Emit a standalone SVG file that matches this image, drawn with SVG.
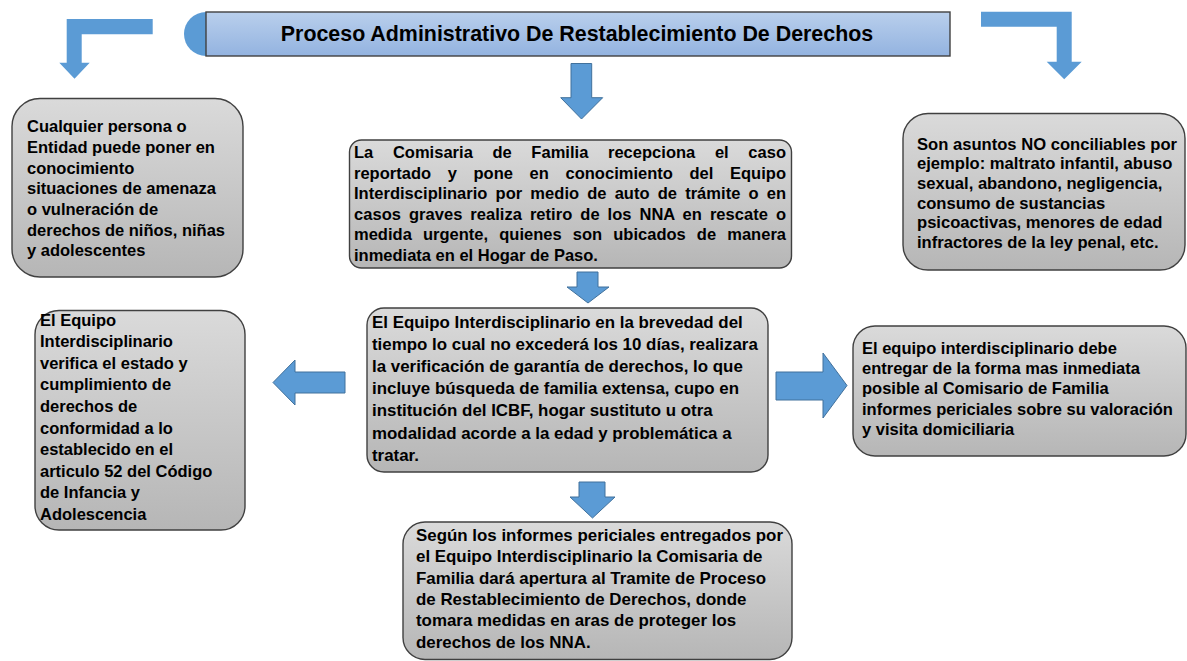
<svg xmlns="http://www.w3.org/2000/svg" width="1187" height="661" viewBox="0 0 1187 661">
<defs>
<linearGradient id="gGray" x1="0" y1="0" x2="0" y2="1">
<stop offset="0" stop-color="#dadada"/>
<stop offset="1" stop-color="#b6b6b6"/>
</linearGradient>
<linearGradient id="gBlue" x1="0" y1="0" x2="0" y2="1">
<stop offset="0" stop-color="#b9cfec"/>
<stop offset="1" stop-color="#93b3e0"/>
</linearGradient>
<style>
.box{fill:url(#gGray);stroke:#404040;stroke-width:1.4}
.t{font-family:"Liberation Sans",Arial,sans-serif;font-weight:bold;font-size:16.5px;fill:#000}
.big{font-size:16.9px}
.mid{font-size:16.6px}
.title{font-family:"Liberation Sans",Arial,sans-serif;font-weight:bold;font-size:21.4px;fill:#000}
.arr{fill:#5b9bd5;stroke:#41719c;stroke-width:1}
.carr{fill:#5b9bd5}
</style>
</defs>
<rect width="1187" height="661" fill="#fff"/>

<g id="title">
<path d="M206,12 A22,22 0 0 0 206,56 Z" fill="#5b9bd5"/>
<rect x="206" y="12" width="744" height="44" fill="url(#gBlue)" stroke="#404040" stroke-width="1.4"/>
<text class="title" x="577" y="41" text-anchor="middle">Proceso Administrativo De Restablecimiento De Derechos</text>
</g>

<g id="connectors">
<polygon class="carr" points="152.7,19 66.7,19 66.7,62.7 59.3,62.7 74.5,78.7 89.7,62.7 81.7,62.7 81.7,34.3 152.7,34.3"/>
<polygon class="carr" points="981,11.7 1071.7,11.7 1071.7,61.7 1081.7,61.7 1064.2,79.3 1046.7,61.7 1056.7,61.7 1056.7,26.7 981,26.7"/>
<polygon class="arr" points="571,63.5 591.7,63.5 591.7,97.7 602.7,97.7 581.5,119 560.7,97.7 571,97.7"/>
<polygon class="arr" points="577,272 598,272 598,287 609,287 588,303 567,287 577,287"/>
<polygon class="arr" points="345,372 295,372 295,360 273,382.5 295,405 295,393 345,393"/>
<polygon class="arr" points="776,372 823,372 823,353 847,385.5 823,418 823,400 776,400"/>
<polygon class="arr" points="579,482 605,482 605,497 615,497 592.5,518 570,497 579,497"/>
</g>

<g id="box1">
<rect class="box" x="12" y="98.5" width="231" height="178.5" rx="28"/>
<text class="t" x="27" y="132">Cualquier persona o</text>
<text class="t" x="27" y="153">Entidad puede poner en</text>
<text class="t" x="27" y="173.5">conocimiento</text>
<text class="t" x="27" y="194">situaciones de amenaza</text>
<text class="t" x="27" y="215">o vulneración de</text>
<text class="t" x="27" y="235.5">derechos de niños, niñas</text>
<text class="t" x="27" y="256">y adolescentes</text>
</g>

<g id="box2">
<rect class="box" x="349.5" y="140" width="442" height="128" rx="12"/>
<text class="t" x="354" y="158" textLength="432" lengthAdjust="spacing" word-spacing="15">La Comisaria de Familia recepciona el caso</text>
<text class="t" x="354" y="178.5" textLength="432" lengthAdjust="spacing" word-spacing="12">reportado y pone en conocimiento del Equipo</text>
<text class="t" x="354" y="199" textLength="432" lengthAdjust="spacing" word-spacing="3.5">Interdisciplinario por medio de auto de trámite o en</text>
<text class="t" x="354" y="219.5" textLength="432" lengthAdjust="spacing" word-spacing="3.3">casos graves realiza retiro de los NNA en rescate o</text>
<text class="t" x="354" y="240" textLength="432" lengthAdjust="spacing" word-spacing="6.5">medida urgente, quienes son ubicados de manera</text>
<text class="t" x="354" y="260.5">inmediata en el Hogar de Paso.</text>
</g>

<g id="box3">
<rect class="box" x="367" y="308" width="401" height="164" rx="17"/>
<text class="t big" x="372" y="327.5">El Equipo Interdisciplinario en la brevedad del</text>
<text class="t big" x="372" y="349.7">tiempo lo cual no excederá los 10 días, realizara</text>
<text class="t big" x="372" y="371.9">la verificación de garantía de derechos, lo que</text>
<text class="t big" x="372" y="394.1">incluye búsqueda de familia extensa, cupo en</text>
<text class="t big" x="372" y="416.3">institución del ICBF, hogar sustituto u otra</text>
<text class="t big" x="372" y="438.5">modalidad acorde a la edad y problemática a</text>
<text class="t big" x="372" y="460.7">tratar.</text>
</g>

<g id="box4">
<rect class="box" x="35" y="310.5" width="210" height="219.5" rx="24"/>
<text class="t" x="40" y="325.5">El Equipo</text>
<text class="t" x="40" y="347.1">Interdisciplinario</text>
<text class="t" x="40" y="368.7">verifica el estado y</text>
<text class="t" x="40" y="390.3">cumplimiento de</text>
<text class="t" x="40" y="411.9">derechos de</text>
<text class="t" x="40" y="433.5">conformidad a lo</text>
<text class="t" x="40" y="455.1">establecido en el</text>
<text class="t" x="40" y="476.7">articulo 52 del Código</text>
<text class="t" x="40" y="498.3">de Infancia y</text>
<text class="t" x="40" y="519.9">Adolescencia</text>
</g>

<g id="box5">
<rect class="box" x="903" y="113.5" width="282" height="156.5" rx="25"/>
<text class="t mid" x="917" y="149.5">Son asuntos NO conciliables por</text>
<text class="t mid" x="917" y="169.2">ejemplo: maltrato infantil, abuso</text>
<text class="t mid" x="917" y="188.8">sexual, abandono, negligencia,</text>
<text class="t mid" x="917" y="208.5">consumo de sustancias</text>
<text class="t mid" x="917" y="228.1">psicoactivas, menores de edad</text>
<text class="t mid" x="917" y="247.8">infractores de la ley penal, etc.</text>
</g>

<g id="box6">
<rect class="box" x="853" y="326" width="333" height="130" rx="22"/>
<text class="t" x="862" y="353.5">El equipo interdisciplinario debe</text>
<text class="t" x="862" y="374">entregar de la forma mas inmediata</text>
<text class="t" x="862" y="394.4">posible al Comisario de Familia</text>
<text class="t" x="862" y="414.8">informes periciales sobre su valoración</text>
<text class="t" x="862" y="435.2">y visita domiciliaria</text>
</g>

<g id="box7">
<rect class="box" x="403" y="522" width="389" height="137.5" rx="22"/>
<text class="t big" x="416" y="541">Según los informes periciales entregados por</text>
<text class="t big" x="416" y="562.3">el Equipo Interdisciplinario la Comisaria de</text>
<text class="t big" x="416" y="583.6">Familia dará apertura al Tramite de Proceso</text>
<text class="t big" x="416" y="604.9">de Restablecimiento de Derechos, donde</text>
<text class="t big" x="416" y="626.2">tomara medidas en aras de proteger los</text>
<text class="t big" x="416" y="647.5">derechos de los NNA.</text>
</g>
</svg>
